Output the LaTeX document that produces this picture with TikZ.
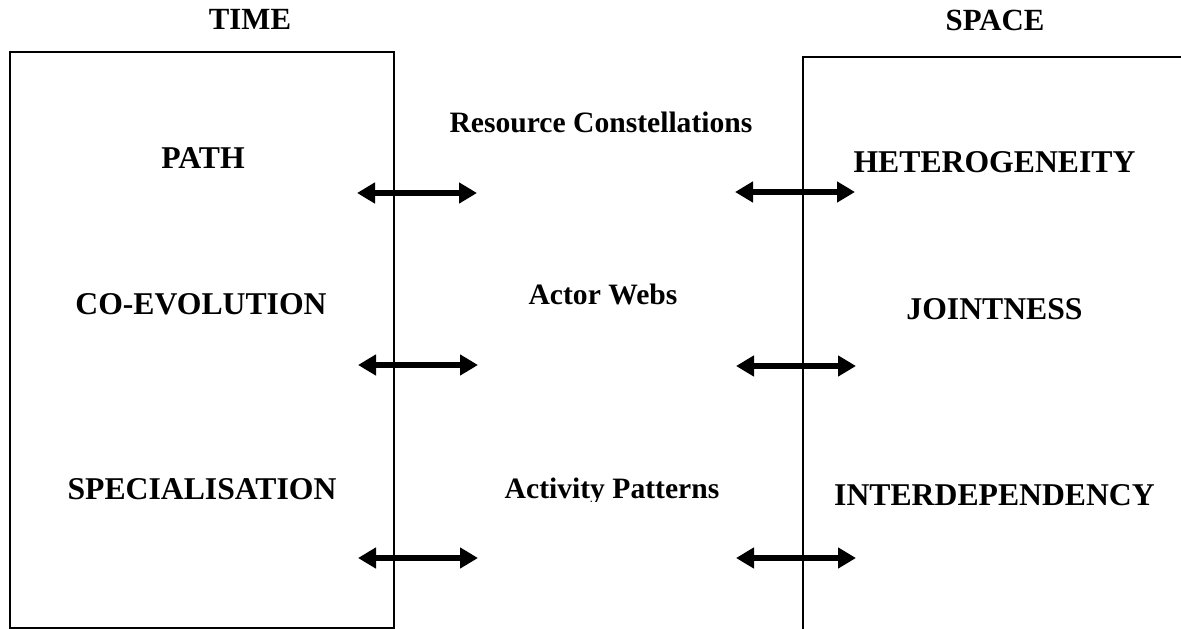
\documentclass[tikz,border=0pt]{standalone}
\usepackage{fontspec}
\setmainfont{Liberation Serif}
\usetikzlibrary{arrows.meta}
\begin{document}
\begin{tikzpicture}[x=1pt,y=-1pt,
  frame/.style={line width=2pt},
  bigcap/.style={font=\bfseries\fontsize{31.7}{34}\selectfont, inner sep=0pt, anchor=base},
  midlbl/.style={font=\bfseries\fontsize{29.6}{32}\selectfont, inner sep=0pt, anchor=base},
  head/.style={font=\bfseries\fontsize{30.8}{33}\selectfont, inner sep=0pt, anchor=base},
  link/.style={line width=5.5pt, {Triangle[length=18pt,width=20pt]}-{Triangle[length=18pt,width=20pt]}}]
\useasboundingbox (0,0) rectangle (1181,629);
% the two frames
\draw[frame] (10,628) -- (10,52) -- (394,52) -- (394,628) -- cycle;
\draw[frame] (803,640) -- (803,57) -- (1190,57);
% headings
\node[head] (time) at (250,29) {TIME};
\node[head] (space) at (995,30) {SPACE};
% time column
\node[bigcap] (path) at (203,168) {PATH};
\node[bigcap] (coev) at (201,314) {CO-EVOLUTION};
\node[bigcap] (spec) at (202,499) {SPECIALISATION};
% middle column
\node[midlbl] (res) at (601,132) {Resource Constellations};
\node[midlbl] (act) at (603,304) {Actor Webs};
\begin{scope}
  \clip (420,460) rectangle (780,501);
  \node[midlbl] (pat) at (612,498) {Activity Patterns};
\end{scope}
% space column
\node[bigcap] (het) at (994.5,172) {HETEROGENEITY};
\node[bigcap] (joi) at (994.5,319) {JOINTNESS};
\node[bigcap] (int) at (994.5,505) {INTERDEPENDENCY};
% arrow end points
\coordinate (l1a) at (357,193); \coordinate (l1b) at (477,193);
\coordinate (l2a) at (358,365); \coordinate (l2b) at (478,365);
\coordinate (l3a) at (358,558); \coordinate (l3b) at (478,558);
\coordinate (r1a) at (735,192); \coordinate (r1b) at (855,192);
\coordinate (r2a) at (736,366); \coordinate (r2b) at (856,366);
\coordinate (r3a) at (736,558); \coordinate (r3b) at (856,558);
\foreach \s in {l1,l2,l3,r1,r2,r3}
  \draw[link] (\s a) -- (\s b);
\end{tikzpicture}
\end{document}
